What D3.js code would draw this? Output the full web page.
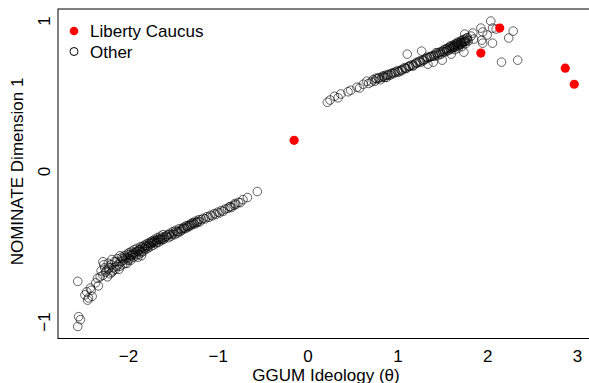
<!DOCTYPE html>
<html>
<head>
<meta charset="utf-8">
<script src="https://cdn.jsdelivr.net/npm/d3@7"></script>
<style>
  html, body { margin: 0; padding: 0; background: #fff; }
  svg { display: block; font-family: "Liberation Sans", Arial, sans-serif; }
</style>
</head>
<body>
<svg id="chart" width="589" height="383"></svg>
<script>
// Liberty Caucus members (filled red)
const libertyX = [-0.15, 1.93, 2.14, 2.87, 2.97];
const libertyY = [0.207, 0.787, 0.953, 0.687, 0.58];

// Everyone else (open circles), [GGUM theta, NOMINATE dim 1]
const otherPts = [
  // lower-left stragglers
  [-2.56,-0.73],[-2.55,-0.965],[-2.53,-0.985],[-2.56,-1.03],
  [-2.48,-0.82],[-2.46,-0.80],[-2.44,-0.84],[-2.42,-0.775],[-2.40,-0.83],[-2.45,-0.855],[-2.41,-0.79],
  [-2.34,-0.71],[-2.31,-0.70],[-2.36,-0.74],[-2.33,-0.76],
  [-2.28,-0.60],[-2.18,-0.585],[-2.22,-0.61],
  // democrats band
  [-2.30,-0.66],[-2.28,-0.69],[-2.26,-0.64],[-2.25,-0.67],[-2.23,-0.70],[-2.22,-0.65],[-2.20,-0.68],[-2.19,-0.62],
  [-2.17,-0.66],[-2.16,-0.64],[-2.15,-0.60],[-2.13,-0.63],[-2.12,-0.58],[-2.11,-0.62],[-2.10,-0.65],[-2.08,-0.60],
  [-2.07,-0.57],[-2.06,-0.62],[-2.05,-0.59],[-2.04,-0.56],[-2.03,-0.61],[-2.02,-0.58],[-2.01,-0.55],[-2.00,-0.57],
  [-1.99,-0.54],[-1.98,-0.58],[-1.97,-0.56],[-1.96,-0.53],[-1.95,-0.55],[-1.94,-0.57],[-1.93,-0.52],[-1.92,-0.54],
  [-1.91,-0.56],[-1.90,-0.51],[-1.89,-0.53],[-1.88,-0.55],[-1.87,-0.52],[-1.86,-0.50],[-1.85,-0.54],[-1.84,-0.51],
  [-1.83,-0.53],[-1.82,-0.49],[-1.81,-0.52],[-1.80,-0.50],[-1.79,-0.48],[-1.78,-0.51],[-1.77,-0.49],[-1.76,-0.47],
  [-1.75,-0.50],[-1.74,-0.48],[-1.73,-0.46],[-1.72,-0.49],[-1.71,-0.47],[-1.70,-0.45],[-1.69,-0.48],[-1.68,-0.46],
  [-1.67,-0.44],[-1.66,-0.47],[-1.65,-0.45],[-1.64,-0.43],[-1.63,-0.46],[-1.62,-0.44],[-1.61,-0.42],[-1.60,-0.45],
  [-1.58,-0.43],[-1.56,-0.42],[-1.55,-0.44],[-1.53,-0.41],[-1.52,-0.43],[-1.50,-0.40],[-1.48,-0.42],[-1.47,-0.39],
  [-1.45,-0.41],[-1.43,-0.38],[-1.42,-0.40],[-1.40,-0.39],[-1.38,-0.37],[-1.36,-0.38],[-1.35,-0.36],[-1.33,-0.37],
  [-1.31,-0.35],[-1.30,-0.36],[-1.28,-0.34],[-1.26,-0.35],[-1.25,-0.33],[-1.23,-0.34],[-1.21,-0.32],[-1.20,-0.335],
  [-1.18,-0.32],[-1.16,-0.31],[-1.14,-0.315],[-1.12,-0.30],[-1.10,-0.305],[-1.08,-0.29],[-1.06,-0.295],[-1.04,-0.28],
  [-1.02,-0.285],[-1.00,-0.27],[-0.98,-0.275],[-0.96,-0.26],[-0.94,-0.265],[-0.92,-0.25],[-0.89,-0.245],[-0.87,-0.235],
  [-0.85,-0.24],[-0.82,-0.225],[-0.80,-0.22],[-0.77,-0.205],
  [-0.86,-0.233],[-0.81,-0.213],[-0.75,-0.207],[-0.72,-0.187],[-0.67,-0.173],[-0.56,-0.133],
  [-2.27,-0.62],[-2.24,-0.66],[-2.21,-0.64],[-2.18,-0.67],[-2.14,-0.65],[-2.09,-0.63],[-2.06,-0.58],[-2.03,-0.57],
  [-2.00,-0.59],[-1.98,-0.55],[-1.96,-0.56],[-1.94,-0.54],[-1.92,-0.55],[-1.90,-0.53],[-1.88,-0.52],[-1.86,-0.53],
  [-1.84,-0.50],[-1.82,-0.51],[-1.80,-0.49],[-1.78,-0.50],[-1.76,-0.48],[-1.74,-0.47],[-1.72,-0.47],[-1.70,-0.46],
  [-1.68,-0.47],[-1.66,-0.45],[-1.64,-0.45],[-1.62,-0.45],[-1.59,-0.44],[-1.57,-0.43],[-1.54,-0.42],[-1.51,-0.42],
  [-1.49,-0.41],[-1.46,-0.40],[-1.44,-0.40],[-1.41,-0.385],[-1.39,-0.38],[-1.37,-0.375],[-1.34,-0.365],[-1.32,-0.36],
  [-1.29,-0.35],[-1.27,-0.345],[-1.24,-0.34],[-1.22,-0.33],[-2.13,-0.60],[-2.09,-0.56],[-2.01,-0.61],[-1.97,-0.59],
  [-1.89,-0.57],[-1.85,-0.56],
  // republicans band
  [0.22,0.46],[0.25,0.475],[0.30,0.50],[0.34,0.49],[0.37,0.515],[0.45,0.53],[0.48,0.54],[0.55,0.56],
  [0.58,0.555],[0.62,0.58],[0.66,0.60],[0.68,0.585],
  [0.71,0.595],[0.73,0.61],[0.75,0.60],[0.77,0.615],[0.79,0.62],[0.81,0.61],[0.83,0.625],[0.85,0.63],
  [0.87,0.64],[0.88,0.625],[0.90,0.645],[0.92,0.64],[0.94,0.655],[0.96,0.65],[0.98,0.66],[1.00,0.67],[1.02,0.665],
  [1.04,0.675],[1.06,0.68],[1.08,0.69],[1.10,0.685],[1.12,0.695],[1.14,0.70],[1.16,0.71],[1.18,0.705],
  [1.20,0.715],[1.22,0.72],[1.24,0.73],[1.26,0.725],[1.28,0.74],[1.30,0.745],[1.32,0.75],[1.34,0.755],
  [1.36,0.76],[1.38,0.765],[1.40,0.77],
  [1.42,0.775],[1.44,0.785],[1.45,0.77],[1.46,0.79],[1.48,0.795],[1.49,0.78],[1.50,0.80],[1.52,0.81],
  [1.53,0.795],[1.54,0.815],[1.56,0.82],[1.57,0.805],[1.58,0.825],[1.60,0.83],[1.61,0.815],[1.62,0.84],
  [1.63,0.825],[1.64,0.845],[1.65,0.83],[1.66,0.85],[1.67,0.835],[1.68,0.855],[1.69,0.84],[1.70,0.86],
  [1.71,0.87],[1.72,0.85],[1.73,0.875],[1.74,0.86],[1.75,0.88],[1.76,0.865],[1.77,0.885],[1.72,0.83],
  [1.68,0.82],[1.64,0.81],[1.78,0.89],
  [0.76,0.62],[0.80,0.625],[0.84,0.635],[0.86,0.625],[0.89,0.64],[0.93,0.65],[0.97,0.66],[1.01,0.66],
  [1.05,0.67],[1.09,0.685],[1.13,0.70],[1.17,0.70],[1.21,0.725],[1.25,0.735],[1.29,0.735],[1.33,0.76],
  [1.37,0.765],[1.41,0.765],[1.43,0.79],[1.47,0.78],[1.51,0.795],[1.55,0.81],[1.59,0.815],[1.62,0.825],
  [1.66,0.84],[1.70,0.845],[1.73,0.86],[1.75,0.865],[1.71,0.855],[1.67,0.86],[1.63,0.835],[1.59,0.835],
  [1.55,0.80],[1.76,0.85],[1.78,0.875],
  [1.11,0.78],[1.27,0.80],[1.34,0.713],[1.40,0.727],[1.50,0.74],[1.60,0.78],
  // upper-right scatter
  [2.04,1.00],[1.93,0.953],[1.84,0.92],[1.95,0.927],[2.06,0.953],[2.10,0.947],[2.29,0.933],[2.24,0.887],
  [2.06,0.853],[1.94,0.873],[1.95,0.853],[2.00,0.907],[2.16,0.727],[2.34,0.74],[1.74,0.793],[1.75,0.913],
  [1.79,0.867],[1.82,0.90],[1.85,0.88]
];

const xTicks = [-2, -1, 0, 1, 2, 3];
const yTicks = [-1, 0, 1];

const svg = d3.select('#chart');

// plot region (right edge runs past the window, like the original)
const plot = { left: 58, right: 594, top: 9, bottom: 338.5 };

const x = d3.scaleLinear().domain([-2.78, 3.19]).range([plot.left, plot.right]);
const y = d3.scaleLinear().domain([-1.11, 1.08]).range([plot.bottom, plot.top]);

// box
svg.append('rect')
  .attr('x', plot.left)
  .attr('y', plot.top)
  .attr('width', plot.right - plot.left)
  .attr('height', plot.bottom - plot.top)
  .attr('fill', 'none')
  .attr('stroke', '#000')
  .attr('stroke-width', 1);

// x axis labels (no tick marks)
const xAxis = svg.append('g')
  .attr('transform', `translate(0,${plot.bottom})`)
  .call(d3.axisBottom(x).tickValues(xTicks).tickSize(0).tickPadding(11)
    .tickFormat(d => d < 0 ? '\u2212' + Math.abs(d) : d));
xAxis.select('.domain').remove();
xAxis.selectAll('text')
  .style('font-size', '17px')
  .style('font-family', '"Liberation Sans", Arial, sans-serif')
  .attr('fill', '#000');

// y axis labels, rotated parallel to the axis
svg.append('g')
  .selectAll('text')
  .data(yTicks)
  .enter()
  .append('text')
  .attr('transform', d => `translate(50,${y(d)}) rotate(-90)`)
  .attr('text-anchor', 'middle')
  .style('font-size', '17px')
  .text(d => d < 0 ? '\u2212' + Math.abs(d) : d);

// axis titles
svg.append('text')
  .attr('x', (plot.left + plot.right) / 2)
  .attr('y', 381)
  .attr('text-anchor', 'middle')
  .style('font-size', '17px')
  .text('GGUM Ideology (\u03b8)');

svg.append('text')
  .attr('transform', `translate(23,${y(0)}) rotate(-90)`)
  .attr('text-anchor', 'middle')
  .style('font-size', '17px')
  .text('NOMINATE Dimension 1');

// open circles
svg.append('g')
  .selectAll('circle')
  .data(otherPts)
  .enter()
  .append('circle')
  .attr('cx', d => x(d[0]))
  .attr('cy', d => y(d[1]))
  .attr('r', 4.3)
  .attr('fill', 'none')
  .attr('stroke', 'rgba(0,0,0,0.6)')
  .attr('stroke-width', 1);

// liberty caucus
svg.append('g')
  .selectAll('circle')
  .data(libertyX.map((v, i) => [v, libertyY[i]]))
  .enter()
  .append('circle')
  .attr('cx', d => x(d[0]))
  .attr('cy', d => y(d[1]))
  .attr('r', 4.6)
  .attr('fill', '#ff0000');

// legend
const legend = svg.append('g').attr('transform', 'translate(74,31)');

legend.append('circle')
  .attr('cx', 0).attr('cy', 0).attr('r', 4.3)
  .attr('fill', '#ff0000');

legend.append('text')
  .attr('x', 16).attr('y', 6)
  .style('font-size', '17px')
  .text('Liberty Caucus');

legend.append('circle')
  .attr('cx', 0).attr('cy', 20.5).attr('r', 4)
  .attr('fill', 'none')
  .attr('stroke', '#000')
  .attr('stroke-width', 1);

legend.append('text')
  .attr('x', 16).attr('y', 26.5)
  .style('font-size', '17px')
  .text('Other');
</script>
</body>
</html>
